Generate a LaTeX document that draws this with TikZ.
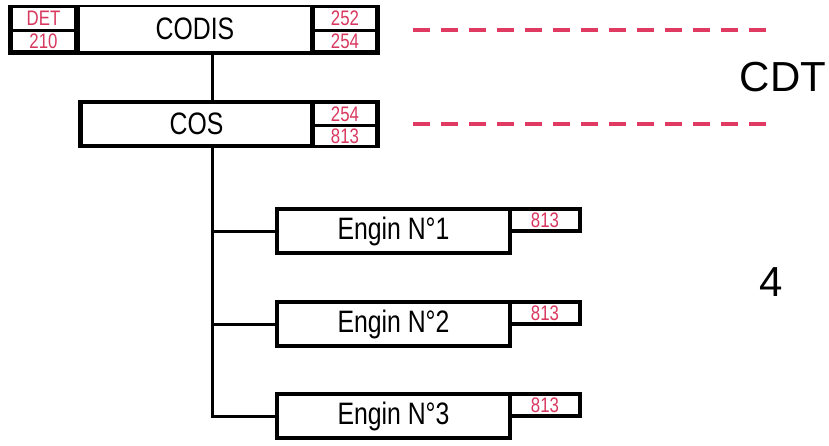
\documentclass[tikz,border=0pt]{standalone}
\usepackage{fontspec}
\setmainfont[FakeStretch=0.8]{Liberation Sans}
\newfontfamily\plainsans{Liberation Sans}
\usepackage{xcolor}
\usepackage{tikz}
\usetikzlibrary{positioning}

\definecolor{codered}{HTML}{D8385E}
\definecolor{dashred}{HTML}{E03A62}

\begin{document}
\begin{tikzpicture}[x=1pt, y=-1pt,
    row/.style={rectangle, fill=black, inner sep=0pt, outer sep=0pt},
    cell/.style={rectangle, fill=white, inner sep=0pt, outer sep=0pt, font=\fontsize{31}{32}\selectfont},
    tag/.style={rectangle, fill=white, inner sep=0pt, outer sep=0pt, text=codered, font=\fontsize{21}{21}\selectfont},
    engin/.style={rectangle, draw, fill=white, line width=3.5pt, inner sep=0pt, outer sep=0pt, minimum width=233pt, minimum height=44pt, font=\fontsize{31}{32}\selectfont},
    enginTag/.style={rectangle, draw, fill=white, line width=3.5pt, inner sep=0pt, outer sep=0pt, minimum width=70pt, minimum height=22pt, text=codered, font=\fontsize{21}{21}\selectfont},
    link/.style={line width=3pt},
    level/.style={dashred, line width=4pt, dash pattern=on 17pt off 11pt}]

    \useasboundingbox (0,0) rectangle (829,445);

    % CODIS row
    \node [row, minimum width=372pt, minimum height=50pt] (codisrow) at (194,30) {};
    \node [tag, minimum width=61pt, minimum height=21pt] (det) at (43.5,18.5) {DET};
    \node [tag, minimum width=61pt, minimum height=18pt] (c210) at (43.5,41) {210};
    \node [cell, minimum width=230pt, minimum height=44pt] (codis) at (195,29) {CODIS};
    \node [tag, minimum width=60pt, minimum height=21pt] (c252) at (345,18.5) {252};
    \node [tag, minimum width=60pt, minimum height=18pt] (c254a) at (345,41) {254};

    % COS row
    \node [row, minimum width=302pt, minimum height=48pt] (cosrow) at (229,124) {};
    \node [cell, minimum width=227pt, minimum height=40pt] (cos) at (196.5,124) {COS};
    \node [tag, minimum width=60pt, minimum height=20pt] (c254b) at (345,114) {254};
    \node [tag, minimum width=60pt, minimum height=18pt] (c813) at (345,136) {813};

    % engins
    \node [engin] (e1) at (393.5,231) {Engin N°1};
    \node [engin] (e2) at (393.5,324) {Engin N°2};
    \node [engin] (e3) at (393.5,416) {Engin N°3};
    \node [enginTag, anchor=north west] (t1) at (e1.north east) {813};
    \node [enginTag, anchor=north west] (t2) at (e2.north east) {813};
    \node [enginTag, anchor=north west] (t3) at (e3.north east) {813};

    % links
    \coordinate (spine) at (212,0);
    \draw [link] (spine |- codisrow.south) -- (spine |- cosrow.north);
    \draw [link] (spine |- cosrow.south) -- (spine |- e3.west) -- (e3.west);
    \draw [link] (spine |- e1.west) -- (e1.west);
    \draw [link] (spine |- e2.west) -- (e2.west);

    % levels
    \coordinate (l1a) at (413,30);
    \coordinate (l1b) at (773,30);
    \coordinate (l2a) at (413,124);
    \coordinate (l2b) at (773,124);
    \draw [level] (l1a) -- (l1b);
    \draw [level] (l2a) -- (l2b);

    \node [font=\plainsans\fontsize{42}{44}\selectfont] (cdt) at (783,77) {CDT};
    \node [font=\plainsans\fontsize{42}{44}\selectfont] (four) at (771,282) {4};
\end{tikzpicture}
\end{document}
